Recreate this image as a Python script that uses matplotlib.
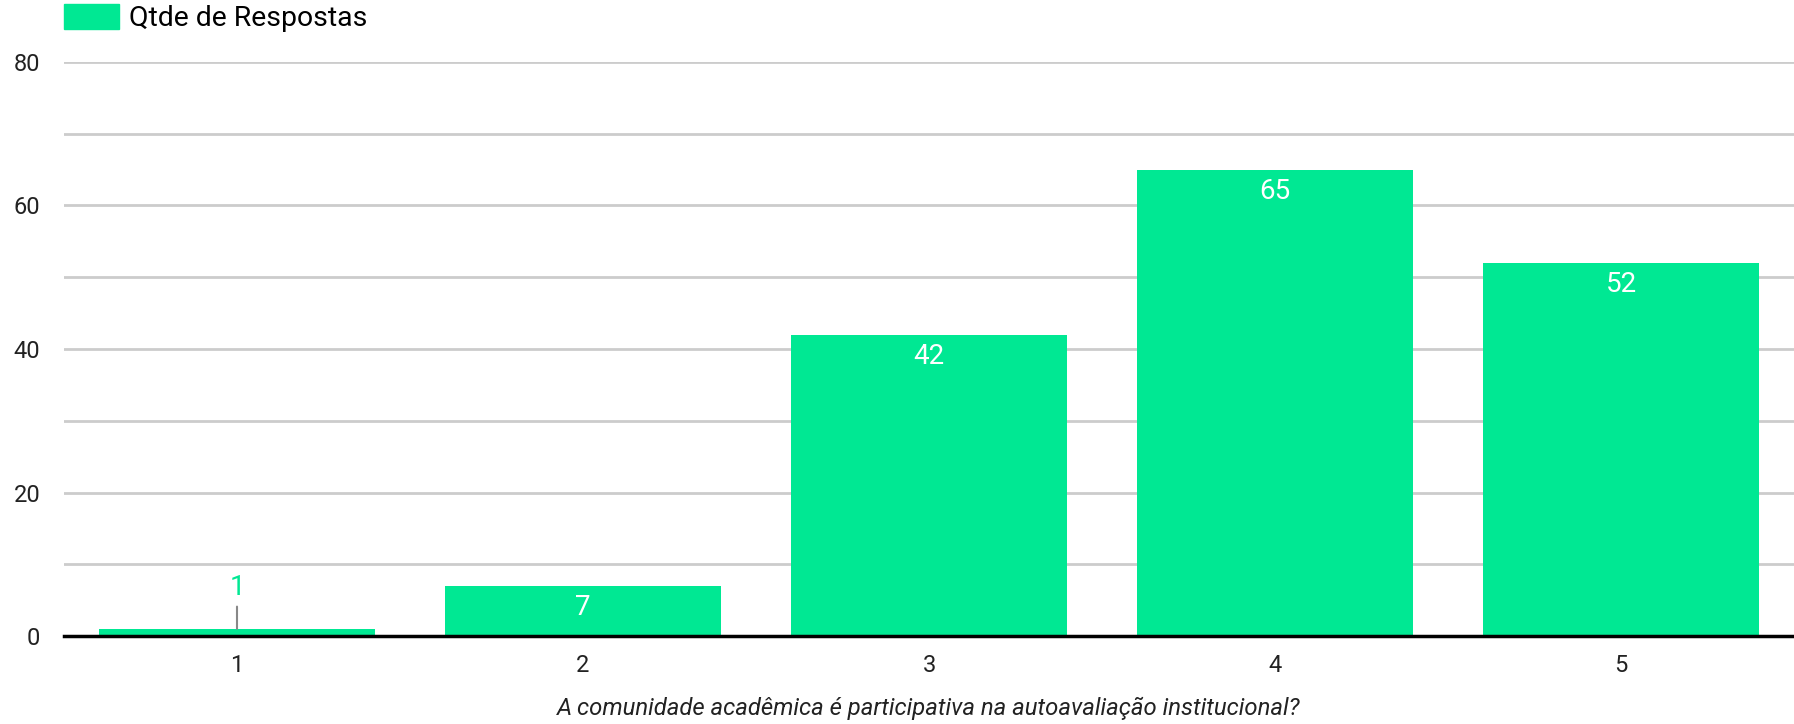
import matplotlib
matplotlib.use("Agg")
import matplotlib.pyplot as plt
from matplotlib.patches import Patch

plt.rcParams["font.family"] = ["Roboto", "DejaVu Sans"]

categories = ["1", "2", "3", "4", "5"]
respostas = [1, 7, 42, 65, 52]
series_name = "Qtde de Respostas"
x_title = "A comunidade acadêmica é participativa na autoavaliação institucional?"
y_ticks = [0, 20, 40, 60, 80]

GREEN = "#00E893"

fig = plt.figure(figsize=(17.94, 7.24), dpi=100)
ax = fig.add_axes([64 / 1794, 88 / 724, 1730 / 1794, 574 / 724])

x = list(range(len(categories)))
bars = ax.bar(x, respostas, width=0.8, color=GREEN, zorder=3)

ax.set_xlim(-0.5, len(categories) - 0.5)
ax.set_ylim(0, 80)
ax.set_yticks(y_ticks)
ax.set_yticks(range(0, 81, 10), minor=True)
ax.yaxis.grid(True, which="both", color="#cccccc", linewidth=2, zorder=0)
ax.set_xticks(x)
ax.set_xticklabels(categories)
ax.tick_params(axis="both", which="both", length=0, labelsize=17, colors="#222222")
ax.tick_params(axis="x", pad=13)
ax.tick_params(axis="y", pad=17)
for s in ["top", "right", "left"]:
    ax.spines[s].set_visible(False)
ax.spines["bottom"].set_linewidth(2.5)
ax.spines["bottom"].set_color("black")
ax.spines["bottom"].set_zorder(4)

ax.set_xlabel(x_title, fontsize=17.2, style="italic", color="#222222", labelpad=14)

for bar, v in zip(bars, respostas):
    cx = bar.get_x() + bar.get_width() / 2
    if v >= 5:
        ax.annotate(str(v), (cx, v), xytext=(0, -6), textcoords="offset points",
                    ha="center", va="top", color="white", fontsize=20, zorder=5)
    else:
        ax.annotate(str(v), (cx, v), xytext=(0, 20), textcoords="offset points",
                    ha="center", va="bottom", color=GREEN, fontsize=20, zorder=5,
                    arrowprops=dict(arrowstyle="-", color="#888888", lw=1.5,
                                    shrinkA=2, shrinkB=0))

fig.legend(handles=[Patch(color=GREEN, label=series_name)],
           loc="upper left", bbox_to_anchor=(64 / 1794, 1 - 4 / 724),
           frameon=False, fontsize=20.4, handlelength=1.95, handleheight=1.0,
           handletextpad=0.35, borderpad=0, borderaxespad=0)

fig.savefig("out.png", dpi=100)
